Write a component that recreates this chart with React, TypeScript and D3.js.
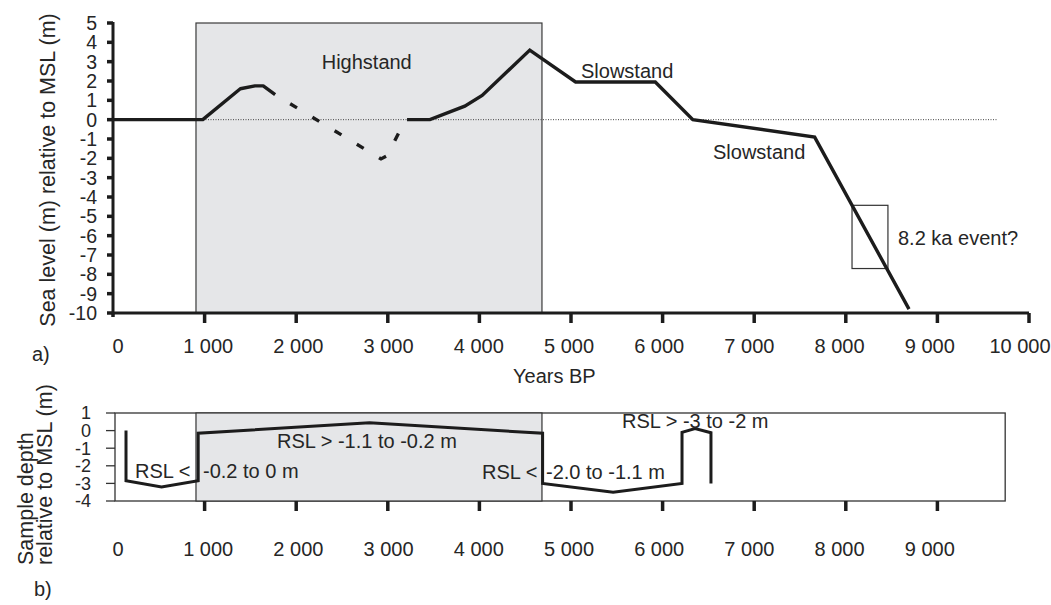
import React from 'react';
import * as d3 from 'd3';

type Pt = { yr: number; m: number };

// axis ticks
const yearTicks = [0, 1000, 2000, 3000, 4000, 5000, 6000, 7000, 8000, 9000, 10000];
const yearTickLabels = ['0', '1 000', '2 000', '3 000', '4 000', '5 000', '6 000', '7 000', '8 000', '9 000', '10 000'];
const levelTicks = [5, 4, 3, 2, 1, 0, -1, -2, -3, -4, -5, -6, -7, -8, -9, -10];
const depthTicks = [1, 0, -1, -2, -3, -4];

// a) sea level curve (years BP, m relative to MSL)
const earlyRise: Pt[] = [
  { yr: 0, m: 0 }, { yr: 980, m: 0 }, { yr: 1390, m: 1.6 }, { yr: 1550, m: 1.75 },
  { yr: 1640, m: 1.75 }, { yr: 1770, m: 1.3 },
];
const inferredDip: Pt[] = [
  { yr: 1770, m: 1.3 }, { yr: 2926, m: -2.03 }, { yr: 2990, m: -1.87 }, { yr: 3140, m: -0.5 },
];
const lateCurve: Pt[] = [
  { yr: 3210, m: 0 }, { yr: 3460, m: 0 }, { yr: 3840, m: 0.7 }, { yr: 4030, m: 1.25 },
  { yr: 4550, m: 3.6 }, { yr: 5050, m: 1.95 }, { yr: 5920, m: 1.95 }, { yr: 6330, m: 0 },
  { yr: 7660, m: -0.9 }, { yr: 8690, m: -9.8 },
];

// b) sample depths
const sampleDepths: Pt[] = [
  { yr: 142, m: 0 }, { yr: 142, m: -2.85 }, { yr: 530, m: -3.2 }, { yr: 930, m: -2.85 },
  { yr: 930, m: -0.15 }, { yr: 2800, m: 0.45 }, { yr: 4690, m: -0.15 }, { yr: 4690, m: -3.0 },
  { yr: 5460, m: -3.5 }, { yr: 6212, m: -3.0 }, { yr: 6212, m: -0.1 }, { yr: 6354, m: 0.12 },
  { yr: 6528, m: -0.12 }, { yr: 6528, m: -3.0 },
];

const highstandYears = [906, 4683];
const eventYears = [8068, 8460];
const eventLevels = [-4.43, -7.7];
const zeroLineEnd = 9660;
const lowerFrameEnd = 9740;

const FONT = '"Liberation Sans", Arial, Helvetica, sans-serif';
const INK = '#1c1c1c';
const TXT = '#262626';
const SHADE = '#e5e6e8';

export default function App() {
  const x = d3.scaleLinear().domain([0, 10000]).range([113, 1029]);
  // tick labels sit slightly off the tick marks in the original
  const xLabel = d3.scaleLinear().domain([0, 10000]).range([118, 1020]);
  const yTop = d3.scaleLinear().domain([-10, 5]).range([313, 23]);
  const yBot = d3.scaleLinear().domain([-4, 1]).range([501, 413]);

  const topLine = d3.line<Pt>().x(d => x(d.yr)).y(d => yTop(d.m));
  const botLine = d3.line<Pt>().x(d => x(d.yr)).y(d => yBot(d.m));

  const axisY = yTop(-10);

  return (
    <svg
      width={1051}
      height={605}
      style={{ position: 'absolute', left: 0, top: 0, background: '#fff' }}
      fontFamily={FONT}
    >
      {/* ---------- a) ---------- */}
      <rect
        x={x(highstandYears[0])}
        y={yTop(5)}
        width={x(highstandYears[1]) - x(highstandYears[0])}
        height={yTop(-10) - yTop(5)}
        fill={SHADE}
        stroke="#3a3a3a"
        strokeWidth={1.2}
      />
      <line
        x1={x(0)} x2={x(zeroLineEnd)} y1={yTop(0)} y2={yTop(0)}
        stroke="#444" strokeWidth={1} strokeDasharray="1 1.5"
      />
      <rect
        x={x(eventYears[0])}
        y={yTop(eventLevels[0])}
        width={x(eventYears[1]) - x(eventYears[0])}
        height={yTop(eventLevels[1]) - yTop(eventLevels[0])}
        fill="none"
        stroke="#333"
        strokeWidth={1.2}
      />
      <path d={topLine(earlyRise) || ''} fill="none" stroke={INK} strokeWidth={3.4} strokeLinejoin="round" />
      <path
        d={topLine(inferredDip) || ''}
        fill="none" stroke={INK} strokeWidth={3.4}
        strokeDasharray="8 18" strokeDashoffset={8.4}
      />
      <path d={topLine(lateCurve) || ''} fill="none" stroke={INK} strokeWidth={3.4} strokeLinejoin="miter" />

      {/* axes */}
      <line x1={x(0)} x2={x(0)} y1={yTop(5) - 1} y2={axisY + 1.5} stroke={INK} strokeWidth={3} />
      <line x1={x(0)} x2={x(10000)} y1={axisY} y2={axisY} stroke={INK} strokeWidth={3} />
      {levelTicks.map(t => (
        <g key={t}>
          <line x1={x(0) - 6} x2={x(0)} y1={yTop(t)} y2={yTop(t)} stroke={INK} strokeWidth={3.5} />
          <text x={97} y={yTop(t)} dy="0.36em" textAnchor="end" fontSize={19.5} fill={TXT}>{t}</text>
        </g>
      ))}
      {yearTicks.map((t, i) => (
        <g key={t}>
          <line
            x1={x(t)} x2={x(t)} y1={axisY} y2={axisY + (t === 0 ? 4 : 10)}
            stroke={INK} strokeWidth={3.5}
          />
          <text x={xLabel(t)} y={353} textAnchor="middle" fontSize={20} fill={TXT}>{yearTickLabels[i]}</text>
        </g>
      ))}
      <text x={32} y={361} fontSize={20} fill={TXT}>a)</text>
      <text x={513} y={383} fontSize={20} fill={TXT}>Years BP</text>
      <text
        transform={`translate(55,${(yTop(5) + yTop(-10)) / 2 + 2}) rotate(-90)`}
        textAnchor="middle" fontSize={21.5} fill={TXT}
      >
        Sea level (m) relative to MSL (m)
      </text>

      <text x={x(2770)} y={69} textAnchor="middle" fontSize={20} fill={TXT}>Highstand</text>
      <text x={581} y={78} fontSize={20} fill={TXT}>Slowstand</text>
      <text x={713} y={159} fontSize={20} fill={TXT}>Slowstand</text>
      <text x={898} y={245} fontSize={20} fill={TXT}>8.2 ka event?</text>

      {/* ---------- b) ---------- */}
      <rect
        x={x(0) + 2}
        y={yBot(1)}
        width={x(lowerFrameEnd) - x(0) - 2}
        height={yBot(-4) - yBot(1)}
        fill="#fff"
        stroke="#333"
        strokeWidth={1.3}
      />
      <rect
        x={x(highstandYears[0])}
        y={yBot(1)}
        width={x(highstandYears[1]) - x(highstandYears[0])}
        height={yBot(-4) - yBot(1)}
        fill={SHADE}
        stroke="#333"
        strokeWidth={1.2}
      />
      <path d={botLine(sampleDepths) || ''} fill="none" stroke={INK} strokeWidth={3} strokeLinejoin="miter" />

      {depthTicks.map(t => (
        <g key={t}>
          <line x1={x(0) - 7} x2={x(0) + 2} y1={yBot(t)} y2={yBot(t)} stroke="#333" strokeWidth={1.3} />
          <text x={91} y={yBot(t)} dy="0.36em" textAnchor="end" fontSize={18} fill={TXT}>{t}</text>
        </g>
      ))}
      {yearTicks.slice(0, 10).map((t, i) => (
        <g key={t}>
          {t > 0 && (
            <line
              x1={x(t)} x2={x(t)} y1={yBot(-4)} y2={yBot(-4) + 10}
              stroke={INK} strokeWidth={3.5}
            />
          )}
          <text x={xLabel(t)} y={556} textAnchor="middle" fontSize={20} fill={TXT}>{yearTickLabels[i]}</text>
        </g>
      ))}

      <text x={135} y={478} fontSize={20} fill={TXT}>RSL &lt;</text>
      <text x={203} y={478} fontSize={20} fill={TXT}>-0.2 to 0 m</text>
      <text x={277} y={448} fontSize={20} fill={TXT}>RSL &gt; -1.1 to -0.2 m</text>
      <text x={482} y={479} fontSize={20} fill={TXT}>RSL &lt;</text>
      <text x={546} y={479} fontSize={20} fill={TXT}>-2.0 to -1.1 m</text>
      <text x={622} y={428} fontSize={20} fill={TXT}>RSL &gt; -3 to -2 m</text>

      <text transform="translate(33,565) rotate(-90)" fontSize={21.5} fill={TXT}>Sample depth</text>
      <text transform="translate(52,565) rotate(-90)" fontSize={21.5} fill={TXT}>relative to MSL (m)</text>
      <text x={34} y={596} fontSize={20} fill={TXT}>b)</text>
    </svg>
  );
}
